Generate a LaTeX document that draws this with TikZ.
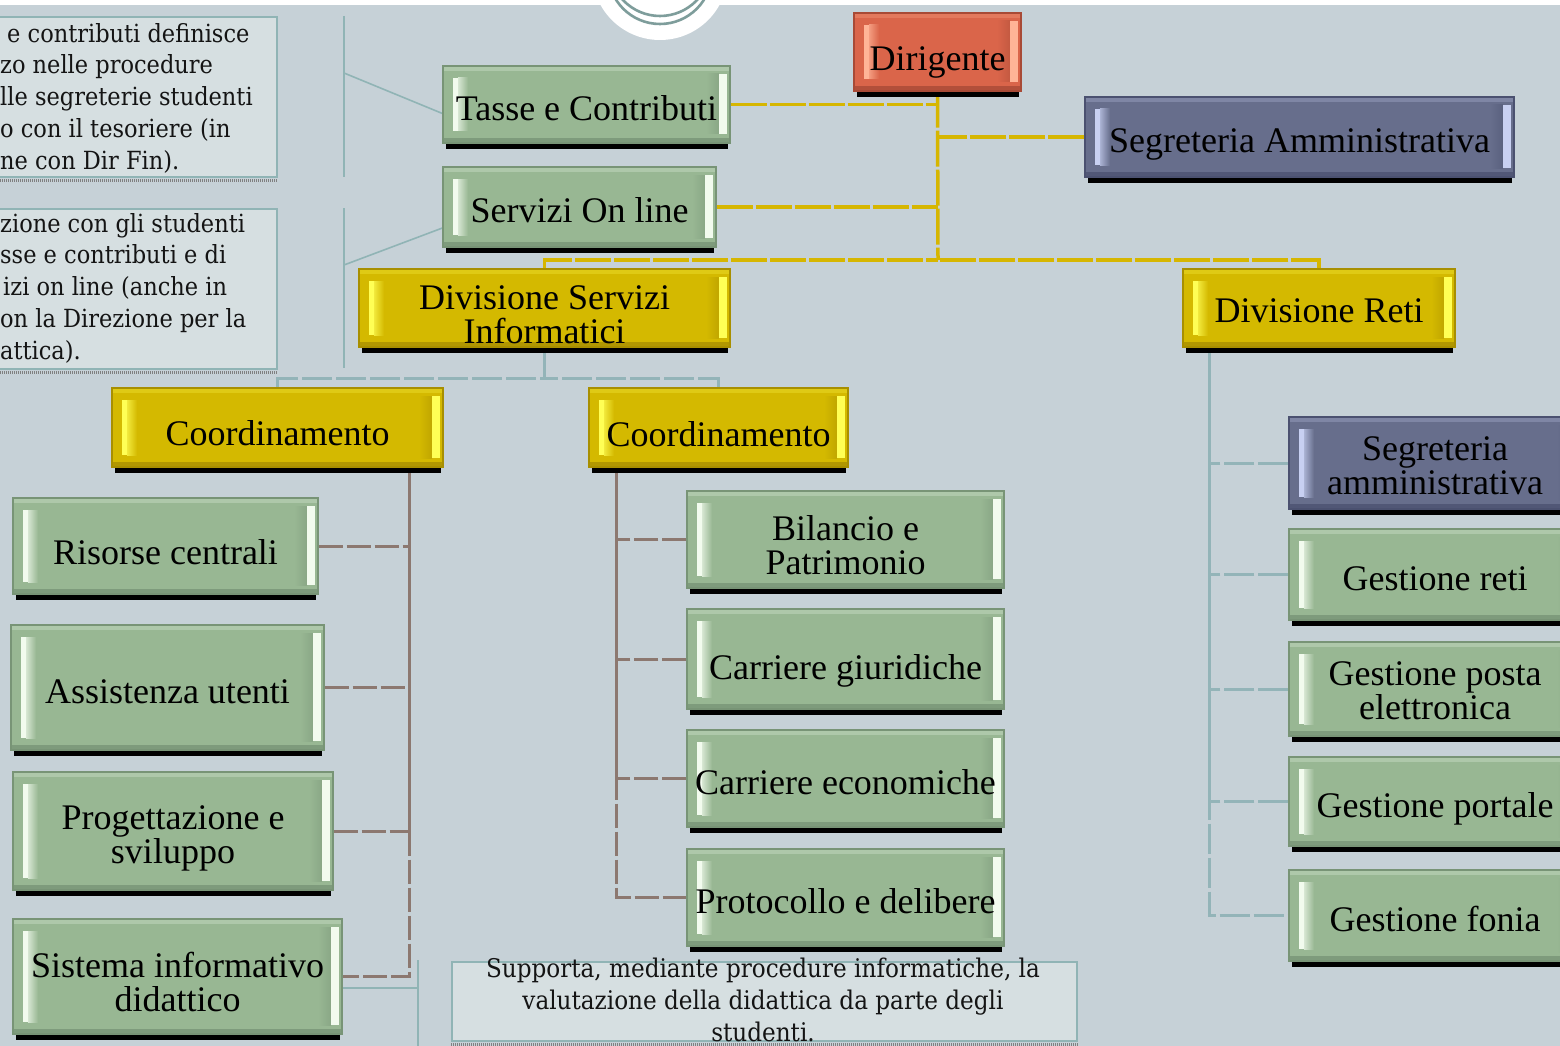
\documentclass[tikz,border=0pt]{standalone}
\usepackage{fontspec}
\setmainfont{Liberation Serif}
\newfontfamily\notefont[FakeStretch=0.9]{DejaVu Serif}

\pgfdeclarelayer{back}
\pgfdeclarelayer{links}
\pgfsetlayers{back,links,main}

% palette
\definecolor{bg}{HTML}{C6D1D7}
\definecolor{gfill}{HTML}{98B793}
\definecolor{gedge}{HTML}{789476}
\definecolor{glite}{HTML}{F2FBEE}
\definecolor{yfill}{HTML}{D4B900}
\definecolor{yedge}{HTML}{A88F00}
\definecolor{ylite}{HTML}{FFFF55}
\definecolor{rfill}{HTML}{DA654A}
\definecolor{redge}{HTML}{A84A36}
\definecolor{rlite}{HTML}{FFB497}
\definecolor{sfill}{HTML}{676E8C}
\definecolor{sedge}{HTML}{4B5170}
\definecolor{slite}{HTML}{C8D0F2}
\definecolor{notefill}{HTML}{D6DFE1}
\definecolor{noteedge}{HTML}{90B4B5}
\definecolor{ylink}{HTML}{D6B600}
\definecolor{tlink}{HTML}{93B4B8}
\definecolor{blink}{HTML}{8C7870}
\definecolor{ring}{HTML}{7E9D9B}

\tikzset{
  bev/.style n args={3}{draw=#2, fill=#1, line width=1.2pt, inner sep=0pt,
    path picture={
      \path (path picture bounding box.south west) coordinate (bsw)
            (path picture bounding box.north east) coordinate (bne)
            (path picture bounding box.north west) coordinate (bnw)
            (path picture bounding box.south east) coordinate (bse);
      \fill[#2!80!#1] (bsw) rectangle ([yshift=5pt]bse);
      \fill[#3!25!#1] ([yshift=-5pt]bnw) rectangle (bne);
      \shade[left color=#3!70!#1, right color=#1] ([xshift=15pt,yshift=-12pt]bnw) rectangle ([xshift=25pt,yshift=12pt]bsw);
      \fill[#3] ([xshift=10pt,yshift=-12pt]bnw) rectangle ([xshift=15pt,yshift=12pt]bsw);
      \shade[left color=#1, right color=#2!45!#1] ([xshift=-24pt,yshift=-8pt]bne) rectangle ([xshift=-11pt,yshift=9pt]bse);
      \fill[#3] ([xshift=-11pt,yshift=-8pt]bne) rectangle ([xshift=-3pt,yshift=9pt]bse);
    }},
  gbox/.style={bev={gfill}{gedge}{glite}},
  ybox/.style={bev={yfill}{yedge}{ylite}},
  rbox/.style={bev={rfill}{redge}{rlite}},
  sbox/.style={bev={sfill}{sedge}{slite}},
  lbl/.style={font=\fontsize{36}{34}\selectfont, align=center, inner sep=0pt, text=black},
  note/.style={fill=notefill, draw=noteedge, line width=1.6pt, inner sep=0pt},
  notetext/.style={font=\notefont\fontsize{25}{31.7}\selectfont, inner sep=0pt, text=black!92},
  hatch/.style={draw=black!50, line width=3pt, dash pattern=on 1pt off 1pt},
  ylk/.style={draw=ylink, line width=3.5pt, dash pattern=on 36pt off 3pt},
  tlk/.style={draw=tlink, line width=3pt, dash pattern=on 30pt off 4pt},
  blk/.style={draw=blink, line width=3pt, dash pattern=on 24pt off 4pt},
  clk/.style={draw=noteedge, line width=1.6pt},
}

% \orgbox[text shift]{name}{x1}{y1}{x2}{y2}{look}{label}
\newcommand\orgbox[8][8]{%
  \fill[black] ({#3+3},{#6-3}) rectangle ({#5-2},{#6+6});
  \node[#7, minimum width={(#5-#3)*1pt}, minimum height={(#6-#4)*1pt}] (#2) at ({(#3+#5)/2},{(#4+#6)/2}) {};
  \node[lbl] (#2-t) at ({(#3+#5)/2},{(#4+#6)/2+#1}) {#8};
}

\begin{document}
\begin{tikzpicture}[x=1pt,y=-1pt]
\useasboundingbox (0,0) rectangle (1560,1046);

\begin{pgfonlayer}{back}
  \fill[white] (0,0) rectangle (1560,1046);
  \fill[bg] (0,5) rectangle (1560,1046);
  \fill[white] (660,-28) circle[radius=68];
  \draw[ring, line width=2.6pt] (660,-28) circle[radius=52];
  \draw[ring, line width=2.6pt] (660,-35) circle[radius=51];
\end{pgfonlayer}

% notes
\node[note, minimum width=286pt, minimum height=160pt, anchor=north west] (note1) at (-10,16) {};
\draw[hatch] ([yshift=-2.5pt]note1.south west) -- ([yshift=-2.5pt]note1.south east);
\node[notetext, align=left, anchor=north west] (note1-t) at (0,22)
  {\rule{0pt}{20pt}\hspace*{7pt}e contributi definisce\\zo nelle procedure\\lle segreterie studenti\\o con il tesoriere (in\\ne con Dir Fin).};

\node[note, minimum width=286pt, minimum height=160pt, anchor=north west] (note2) at (-10,208) {};
\draw[hatch] ([yshift=-2.5pt]note2.south west) -- ([yshift=-2.5pt]note2.south east);
\node[notetext, align=left, anchor=north west] (note2-t) at (0,212)
  {\rule{0pt}{20pt}zione con gli studenti\\sse e contributi e di\\\hspace*{3pt}izi on line (anche in\\on la Direzione per la\\attica).};

\node[note, minimum width=625pt, minimum height=79pt, anchor=north west] (note3) at (451,961) {};
\draw[hatch] ([yshift=-2.5pt]note3.south west) -- ([yshift=-2.5pt]note3.south east);
\node[notetext, align=center, anchor=north, font=\notefont\fontsize{25.7}{32}\selectfont] (note3-t) at (763,957)
  {\rule{0pt}{20pt}Supporta, mediante procedure informatiche, la\\valutazione della didattica da parte degli\\studenti.};

% boxes
\orgbox[10.3]{dir}{854}{13}{1021}{91}{rbox}{Dirigente}
\orgbox[3.4]{tasse}{443}{66}{730}{143}{gbox}{Tasse e Contributi}
\orgbox[2.9]{servizi}{443}{167}{716}{247}{gbox}{Servizi On line}
\orgbox[7.6]{segA}{1085}{97}{1514}{177}{sbox}{Segreteria Amministrativa}
\orgbox[6.7]{divS}{359}{269}{730}{347}{ybox}{Divisione Servizi\\Informatici}
\orgbox[2.9]{divR}{1183}{269}{1455}{347}{ybox}{Divisione Reti}
\orgbox[5.9]{crdL}{112}{388}{443}{467}{ybox}{Coordinamento}
\orgbox[6.4]{crdR}{589}{388}{848}{467}{ybox}{Coordinamento}
\orgbox[5.9]{ris}{13}{498}{318}{594}{gbox}{Risorse centrali}
\orgbox[4.4]{ass}{11}{625}{324}{750}{gbox}{Assistenza utenti}
\orgbox[7.6]{prog}{13}{772}{333}{890}{gbox}{Progettazione e\\sviluppo}
\orgbox[5.2]{sist}{13}{919}{342}{1034}{gbox}{Sistema informativo\\didattico}
\orgbox[5.8]{bil}{687}{491}{1004}{588}{gbox}{Bilancio e\\Patrimonio}
\orgbox[12.1]{cgiu}{687}{609}{1004}{709}{gbox}{Carriere giuridiche}
\orgbox[3.4]{ceco}{687}{730}{1004}{827}{gbox}{Carriere economiche}
\orgbox[3.4]{prot}{687}{849}{1004}{946}{gbox}{Protocollo e delibere}
\orgbox[2.7]{segB}{1289}{417}{1581}{509}{sbox}{Segreteria\\amministrativa}
\orgbox[4.4]{gret}{1289}{529}{1581}{620}{gbox}{Gestione reti}
\orgbox[1.7]{gpos}{1289}{642}{1581}{736}{gbox}{Gestione posta\\elettronica}
\orgbox[7.1]{gpor}{1289}{757}{1581}{846}{gbox}{Gestione portale}
\orgbox[3.4]{gfon}{1289}{870}{1581}{961}{gbox}{Gestione fonia}

% junction points
\coordinate (ybus) at (938,260);
\coordinate (tbus) at (545,378);
\coordinate (bL) at ([xshift=-34pt]crdL.south east);
\coordinate (bR) at ([xshift=28pt]crdR.south west);
\coordinate (tR) at ([xshift=27pt]divR.south west);
\coordinate (c1a) at (344,16);
\coordinate (c1b) at (344,177);
\coordinate (c1m) at (344,73);
\coordinate (c2a) at (344,208);
\coordinate (c2b) at (344,368);
\coordinate (c2m) at (344,265);
\coordinate (c3a) at (418,960);
\coordinate (c3b) at (418,1046);
\coordinate (c3m) at (418,988);

\begin{pgfonlayer}{links}
  % top level
  \draw[ylk] (dir.south) -- (ybus);
  \draw[ylk] (tasse.east) -- (tasse.east -| ybus);
  \draw[ylk] (segA.west) -- (segA.west -| ybus);
  \draw[ylk] (servizi.east) -- (servizi.east -| ybus);
  \draw[ylk] (divS.north) |- (ybus);
  \draw[ylk] (divR.north) |- (ybus);
  % divisione servizi informatici
  \draw[tlk] (divS.south) |- (tbus);
  \draw[tlk] (crdL.north) |- (tbus);
  \draw[tlk] (crdR.north) |- (tbus);
  % coordinamento (left)
  \draw[blk] (bL) |- (sist.east);
  \draw[blk] (ris.east) -| (bL);
  \draw[blk] (ass.east) -| (bL);
  \draw[blk] (prog.east) -| (bL);
  % coordinamento (right)
  \draw[blk] (bR) |- (prot.west);
  \draw[blk] (bil.west) -| (bR);
  \draw[blk] (cgiu.west) -| (bR);
  \draw[blk] (ceco.west) -| (bR);
  % divisione reti
  \draw[tlk] (tR) |- (gfon.west);
  \draw[tlk] (segB.west) -| (tR);
  \draw[tlk] (gret.west) -| (tR);
  \draw[tlk] (gpos.west) -| (tR);
  \draw[tlk] (gpor.west) -| (tR);
  % note brackets
  \draw[clk] (c1a) -- (c1b);
  \draw[clk] (c1m) -- ([yshift=-9pt]tasse.west);
  \draw[clk] (c2a) -- (c2b);
  \draw[clk] (c2m) -- ([yshift=-21pt]servizi.west);
  \draw[clk] (c3a) -- (c3b);
  \draw[clk] (c3m) -- (c3m -| sist.east);
\end{pgfonlayer}
\end{tikzpicture}
\end{document}
